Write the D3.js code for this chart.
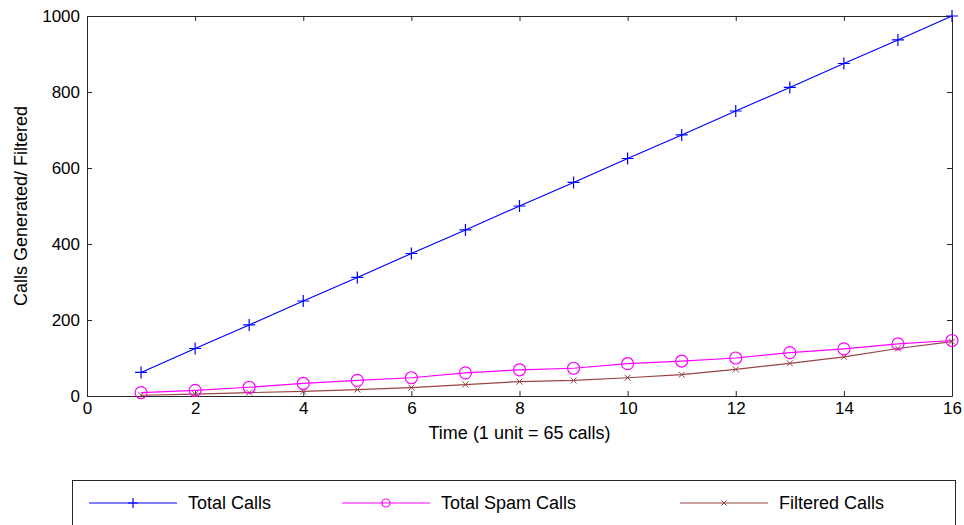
<!DOCTYPE html>
<html>
<head>
<meta charset="utf-8">
<script src="https://cdn.jsdelivr.net/npm/d3@7"></script>
<style>
  html, body { margin: 0; padding: 0; background: #fff; }
  text { font-family: "Liberation Sans", Arial, sans-serif; fill: #000; }
</style>
</head>
<body>
<div id="chart"></div>
<script>
// DATA
const time = [1, 2, 3, 4, 5, 6, 7, 8, 9, 10, 11, 12, 13, 14, 15, 16];
const totalCalls = [62, 125, 187, 250, 312, 375, 437, 500, 562, 625, 687, 750, 812, 875, 937, 1000];
const spamCalls = [9, 15, 23, 33, 41, 48, 61, 69, 73, 85, 92, 100, 114, 124, 137, 146];
const filteredCalls = [2, 5, 9, 12, 17, 22, 30, 38, 41, 48, 56, 70, 86, 103, 125, 143];
const xTicks = [0, 2, 4, 6, 8, 10, 12, 14, 16];
const yTicks = [0, 200, 400, 600, 800, 1000];
const legendNames = ["Total Calls", "Total Spam Calls", "Filtered Calls"];

// CONSTANTS
const WIDTH = 964;
const HEIGHT = 525;
const margin = { left: 87, right: 12, top: 16, bottom: 129 };
const plotW = WIDTH - margin.left - margin.right;
const plotH = HEIGHT - margin.top - margin.bottom;
const FONT = "Liberation Sans, Arial, sans-serif";

const svg = d3.select("#chart")
  .append("svg")
  .attr("width", WIDTH)
  .attr("height", HEIGHT);

const x = d3.scaleLinear().domain([0, 16]).range([margin.left, margin.left + plotW]);
const y = d3.scaleLinear().domain([0, 1000]).range([margin.top + plotH, margin.top]);

const axisColor = "#262626";

// axes (MATLAB style box with inward ticks)
const xAxis = d3.axisBottom(x).tickValues(xTicks).tickSizeInner(-5).tickSizeOuter(0).tickPadding(6).tickFormat(d3.format("d"));
const yAxis = d3.axisLeft(y).tickValues(yTicks).tickSizeInner(-5).tickSizeOuter(0).tickPadding(7).tickFormat(d3.format("d"));

const gx = svg.append("g").attr("transform", `translate(0,${y(0)})`).call(xAxis);
const gy = svg.append("g").attr("transform", `translate(${x(0)},0)`).call(yAxis);
const gxTop = svg.append("g").attr("transform", `translate(0,${y(1000)})`)
  .call(d3.axisTop(x).tickValues(xTicks).tickSizeInner(-5).tickSizeOuter(0).tickFormat(""));
const gyRight = svg.append("g").attr("transform", `translate(${x(16)},0)`)
  .call(d3.axisRight(y).tickValues(yTicks).tickSizeInner(-5).tickSizeOuter(0).tickFormat(""));

[gx, gy, gxTop, gyRight].forEach(g => {
  g.select(".domain").attr("stroke", axisColor);
  g.selectAll(".tick line").attr("stroke", axisColor);
  g.selectAll("text").attr("font-size", 17).attr("font-family", FONT).attr("fill", "#000");
});

// axis labels
svg.append("text")
  .attr("x", x(8))
  .attr("y", 439)
  .attr("text-anchor", "middle")
  .attr("font-size", 18)
  .text("Time (1 unit = 65 calls)");

svg.append("text")
  .attr("transform", `translate(27,${(y(0) + y(1000)) / 2}) rotate(-90)`)
  .attr("text-anchor", "middle")
  .attr("font-size", 18)
  .text("Calls Generated/ Filtered");

// markers
const drawPlus = (g, cx, cy, s, color) => {
  g.append("path")
    .attr("d", `M${cx - s},${cy}H${cx + s}M${cx},${cy - s}V${cy + s}`)
    .attr("stroke", color).attr("stroke-width", 1.2).attr("fill", "none");
};
const drawCircle = (g, cx, cy, r, color) => {
  g.append("circle").attr("cx", cx).attr("cy", cy).attr("r", r)
    .attr("stroke", color).attr("stroke-width", 1.2).attr("fill", "none");
};
const drawCross = (g, cx, cy, s, color) => {
  g.append("path")
    .attr("d", `M${cx - s},${cy - s}L${cx + s},${cy + s}M${cx - s},${cy + s}L${cx + s},${cy - s}`)
    .attr("stroke", color).attr("stroke-width", 1).attr("fill", "none");
};

const series = [
  { values: totalCalls, color: "#0000ff", marker: drawPlus, size: 6, legendSize: 5 },
  { values: spamCalls, color: "#ff00ff", marker: drawCircle, size: 6, legendSize: 4 },
  { values: filteredCalls, color: "#994444", marker: drawCross, size: 3, legendSize: 2.5 }
];

const line = d3.line().x((d, i) => x(time[i])).y(d => y(d));

series.slice().reverse().forEach(s => {
  const g = svg.append("g");
  g.append("path")
    .datum(s.values)
    .attr("d", line)
    .attr("fill", "none")
    .attr("stroke", s.color)
    .attr("stroke-width", 1.2);
  s.values.forEach((v, i) => s.marker(g, x(time[i]), y(v), s.size, s.color));
});

// legend
const legend = svg.append("g");
legend.append("rect")
  .attr("x", 72.5).attr("y", 480.5)
  .attr("width", 883).attr("height", 60)
  .attr("fill", "#fff").attr("stroke", axisColor);

const legendX = [89, 342, 680];
series.forEach((s, i) => {
  const lx = legendX[i];
  const ly = 503;
  legend.append("line")
    .attr("x1", lx).attr("x2", lx + 88)
    .attr("y1", ly).attr("y2", ly)
    .attr("stroke", s.color).attr("stroke-width", 1.2);
  s.marker(legend, lx + 44, ly, s.legendSize, s.color);
  legend.append("text")
    .attr("x", lx + 99)
    .attr("y", ly)
    .attr("dy", "0.35em")
    .attr("font-size", 18)
    .text(legendNames[i]);
});
</script>
</body>
</html>
